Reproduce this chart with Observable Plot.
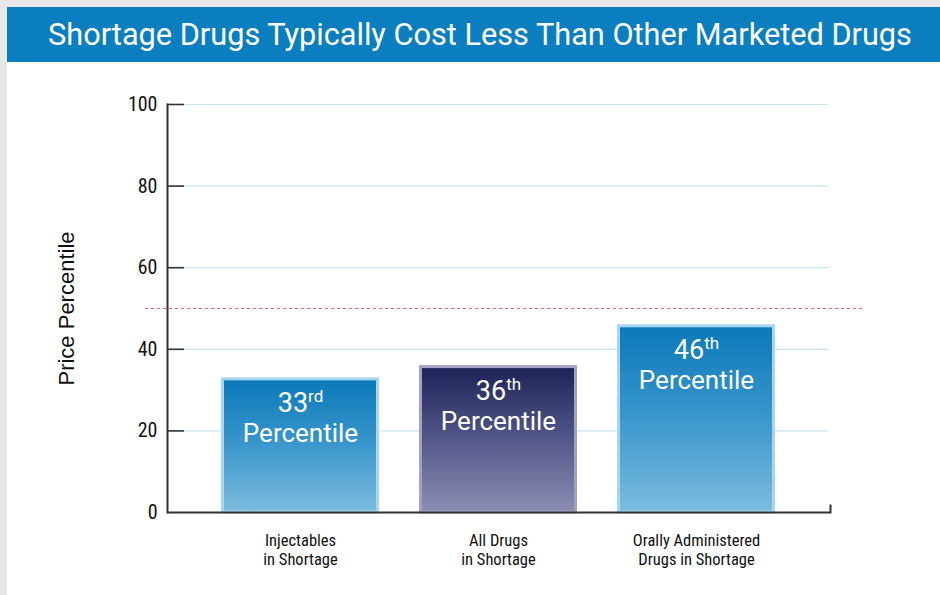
<!DOCTYPE html>
<html>
<head>
<meta charset="utf-8">
<script src="https://cdn.jsdelivr.net/npm/d3@7"></script>
<script src="https://cdn.jsdelivr.net/npm/@observablehq/plot@0.6"></script>
<style>
  html, body { margin: 0; padding: 0; background: #e8e8e8; }
  #page { position: absolute; left: 7px; top: 7px; width: 933px; height: 588px; background: #ffffff; }
  #title { height: 55px; line-height: 55px; background: #0b7ec0; color: #ffffff;
           font-family: Roboto, "Open Sans", sans-serif; font-size: 30.7px; font-weight: 400; text-align: center;
           padding-left: 13px; box-sizing: border-box; white-space: nowrap; }
  #chart svg { display: block; }
</style>
</head>
<body>
<div id="page">
  <div id="title">Shortage Drugs Typically Cost Less Than Other Marketed Drugs</div>
  <div id="chart"></div>
</div>
<script>
const categories = ["Injectables\nin Shortage", "All Drugs\nin Shortage", "Orally Administered\nDrugs in Shortage"];
const percentiles = [33, 36, 46];
const ranks = ["33rd", "36th", "46th"];
const palettes = ["blue", "navy", "blue"];
const yTicks = [0, 20, 40, 60, 80, 100];
const referenceLine = 50;
const yLabel = "Price Percentile";

const data = categories.map((c, i) => ({category: c, value: percentiles[i], rank: ranks[i], palette: palettes[i]}));

const narrow = "'Liberation Sans Narrow', 'Arial Narrow', 'Roboto Condensed', Roboto, sans-serif";
const din = "Roboto, 'Open Sans', sans-serif";

const svg = Plot.plot({
  width: 933,
  height: 533,
  marginLeft: 160,
  marginRight: 110,
  marginTop: 42,
  marginBottom: 83,
  style: {background: "transparent", overflow: "visible"},
  x: {domain: categories, paddingInner: 0.2, paddingOuter: 0.267, label: null},
  y: {domain: [0, 100], label: null},
  marks: [
    Plot.ruleY(yTicks.filter(t => t > 0), {stroke: "#c6e4f1", strokeWidth: 1.2, insetRight: 2}),
    Plot.ruleY([referenceLine], {stroke: "#e25d7a", strokeWidth: 1.2, strokeDasharray: "3,3", insetLeft: -22, insetRight: -32}),
    Plot.barY(data, {filter: d => d.palette === "blue", x: "category", y: "value", fill: "url(#gradBlue)", stroke: "#a8d6ef", strokeWidth: 3, insetLeft: 1.5, insetRight: 1.5, insetTop: 1.5}),
    Plot.barY(data, {filter: d => d.palette === "navy", x: "category", y: "value", fill: "url(#gradNavy)", stroke: "#a2a3c3", strokeWidth: 3, insetLeft: 1.5, insetRight: 1.5, insetTop: 1.5}),
    Plot.ruleY(yTicks.filter(t => t > 0), {stroke: "#333333", strokeWidth: 1.6, insetRight: 646}),
    Plot.ruleY([0], {stroke: "#333333", strokeWidth: 2}),
    Plot.frame({anchor: "left", stroke: "#333333", strokeWidth: 2}),
    Plot.frame({anchor: "right", stroke: "#333333", strokeWidth: 2, insetTop: 401}),
    Plot.axisY(yTicks, {tickSize: 0, tickPadding: 10, fontSize: 20, fontFamily: narrow, fill: "#111111", stroke: "#111111", strokeWidth: 0.3, label: null}),
    Plot.axisX({tickSize: 0, tickPadding: 19, fontSize: 16.5, fontFamily: narrow, fill: "#111111", stroke: "#111111", strokeWidth: 0.3, lineHeight: 1.2, label: null}),
    Plot.text([yLabel], {frameAnchor: "left", textAnchor: "middle", dx: -101, rotate: -90, fontSize: 22, fontFamily: "'Liberation Sans', Arial, sans-serif", fill: "#111111"}),
    Plot.text(data, {x: "category", y: "value", text: "rank", lineAnchor: "bottom", dy: 34, fontSize: 27, fontFamily: din, fill: "#ffffff"}),
    Plot.text(data, {x: "category", y: "value", text: () => "Percentile", lineAnchor: "bottom", dy: 64, fontSize: 26, fontFamily: din, fill: "#ffffff"})
  ]
});

const root = d3.select(svg);
const defs = root.insert("defs", ":first-child");
const gradients = [
  {id: "gradBlue", top: "#0b78b9", mid: "#3b97cc", bottom: "#7dbcdf"},
  {id: "gradNavy", top: "#1d2257", mid: "#545789", bottom: "#8d8eb4"}
];
for (const g of gradients) {
  const lg = defs.append("linearGradient").attr("id", g.id).attr("x1", 0).attr("y1", 0).attr("x2", 0).attr("y2", 1);
  lg.append("stop").attr("offset", "0%").attr("stop-color", g.top);
  lg.append("stop").attr("offset", "50%").attr("stop-color", g.mid);
  lg.append("stop").attr("offset", "100%").attr("stop-color", g.bottom);
}

// superscript ordinal suffixes
root.selectAll("text").each(function() {
  const t = d3.select(this);
  const s = t.text();
  const m = /^(\d+)(st|nd|rd|th)$/.exec(s);
  if (!m) return;
  t.text(null);
  t.append("tspan").text(m[1]);
  t.append("tspan").attr("font-size", 17).attr("dy", -10).text(m[2]);
});

document.getElementById("chart").appendChild(svg);
</script>
</body>
</html>
